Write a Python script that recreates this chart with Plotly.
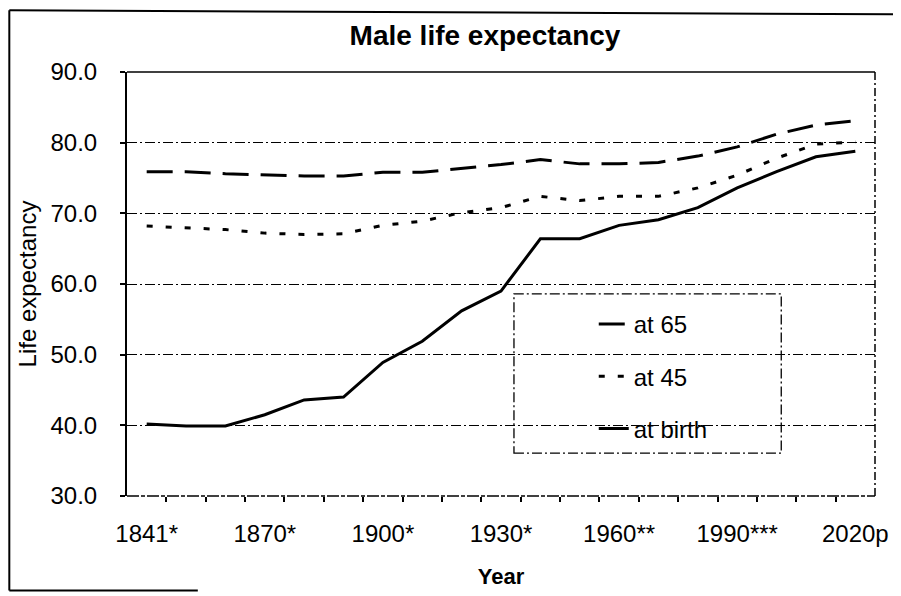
import plotly.graph_objects as go

# ---- data ----
categories = ["1841*", "1850", "1860", "1870*", "1880", "1890", "1900*", "1910", "1920",
              "1930*", "1940", "1950", "1960**", "1970", "1980", "1990***", "2000", "2010", "2020p"]
tick_labels = ["1841*", "1870*", "1900*", "1930*", "1960**", "1990***", "2020p"]
at_65 = [75.9, 75.9, 75.6, 75.4, 75.3, 75.3, 75.8, 75.8, 76.3, 76.9, 77.6, 77.0, 77.0,
         77.2, 78.1, 79.4, 81.2, 82.5, 83.1]
at_45 = [68.2, 67.9, 67.7, 67.2, 67.0, 67.1, 68.3, 68.9, 70.1, 70.8, 72.4, 71.8, 72.4,
         72.4, 73.6, 75.4, 77.8, 79.8, 80.1]
at_birth = [40.2, 39.9, 39.9, 41.5, 43.6, 44.0, 48.9, 51.9, 56.2, 59.0, 66.4, 66.4, 68.3,
            69.1, 70.8, 73.6, 75.9, 78.0, 78.8]
y_ticks = [30, 40, 50, 60, 70, 80, 90]

FONT = "Liberation Sans, Arial, sans-serif"
OFF = 8  # page body margin of the html page
W, H = 901 - OFF, 596 - OFF
L, R, T, B = 127 - OFF, 877 - OFF, 72 - OFF, 498 - OFF

idx = list(range(len(categories)))
tick_idx = [categories.index(t) for t in tick_labels]


def px(x):
    """page pixel x -> paper coordinate"""
    return (x - OFF - L) / (R - L)


def py(y):
    """page pixel y -> paper coordinate"""
    return (B - (y - OFF)) / (B - T)


fig = go.Figure()
series = [("at 65", at_65, "26px,12px"), ("at 45", at_45, "6px,13px"), ("at birth", at_birth, "solid")]
for i, (name, vals, dash) in enumerate(series):
    fig.add_trace(go.Scatter(
        x=idx, y=vals, mode="lines", name=name, legendgroup=f"g{i}",
        line=dict(color="black", width=3, dash=dash),
        customdata=categories, hovertemplate="%{customdata}: %{y:.1f}<extra>" + name + "</extra>",
    ))

shapes = []
# plot-area frame: right and bottom broken lines
shapes.append(dict(type="line", xref="paper", yref="paper", x0=1, x1=1, y0=0, y1=1,
                   line=dict(color="black", width=1.5, dash="8px,3px,2px,3px")))
shapes.append(dict(type="line", xref="paper", yref="paper", x0=0, x1=1, y0=0, y1=0,
                   line=dict(color="black", width=1.5, dash="12px,2px,4px,2px")))
shapes.append(dict(type="line", xref="paper", yref="paper", x0=0, x1=1, y0=1, y1=1,
                   line=dict(color="black", width=1.5)))
# legend box
shapes.append(dict(type="rect", xref="paper", yref="paper", x0=px(515), x1=px(783), y0=py(455), y1=py(295),
                   fillcolor="white", layer="below",
                   line=dict(color="black", width=1.3, dash="10px,3px,2px,3px")))
# outer chart border (scanned frame)
shapes.append(dict(type="line", xref="paper", yref="paper", x0=px(9), x1=px(905), y0=py(10), y1=py(14),
                   line=dict(color="black", width=2)))
shapes.append(dict(type="line", xref="paper", yref="paper", x0=px(9), x1=px(9), y0=py(10), y1=py(593),
                   line=dict(color="black", width=2)))
shapes.append(dict(type="line", xref="paper", yref="paper", x0=px(9), x1=px(198), y0=py(593), y1=py(593),
                   line=dict(color="black", width=2)))

fig.update_layout(
    width=W, height=H,
    margin=dict(l=L, r=W - R, t=T, b=H - B, pad=0),
    paper_bgcolor="white", plot_bgcolor="white",
    font=dict(family=FONT, size=24, color="black"),
    title=dict(text="<b>Male life expectancy</b>", x=(485 - OFF) / W, xref="container", xanchor="center",
               y=1 - (35 - OFF) / H, yref="container", yanchor="middle",
               font=dict(family=FONT, size=28, color="black")),
    showlegend=True,
    legend=dict(x=px(595), y=py(303), xanchor="left", yanchor="top",
                bgcolor="rgba(0,0,0,0)", borderwidth=0,
                traceorder="grouped", tracegroupgap=18,
                font=dict(family=FONT, size=24, color="black")),
    shapes=shapes,
    hovermode="closest",
)

fig.update_xaxes(
    range=[-0.5, len(categories) - 0.5],
    tickmode="array", tickvals=tick_idx, ticktext=tick_labels,
    ticks="outside", ticklen=0, ticklabelstandoff=16,
    tickfont=dict(family=FONT, size=24, color="black"),
    minor=dict(tickmode="array", tickvals=[i - 0.5 for i in range(1, len(categories))],
               ticks="outside", ticklen=5, tickwidth=1.5, tickcolor="black"),
    showgrid=False, zeroline=False, showline=False,
    title=dict(text="<b>Year</b>", font=dict(family=FONT, size=22, color="black"), standoff=22),
    fixedrange=True,
)
fig.update_yaxes(
    range=[30, 90], tickmode="array", tickvals=y_ticks,
    ticktext=[f"{v:.1f}" for v in y_ticks],
    ticks="outside", ticklen=5, tickwidth=1.5, tickcolor="black", ticklabelstandoff=18,
    tickfont=dict(family=FONT, size=24, color="black"),
    showgrid=True, gridcolor="black", gridwidth=1, griddash="10px,3px,2px,3px",
    zeroline=False, showline=True, linecolor="black", linewidth=2,
    title=dict(text="Life expectancy", font=dict(family=FONT, size=24, color="black"), standoff=7),
    fixedrange=True,
)

fig.write_html("out.html")
